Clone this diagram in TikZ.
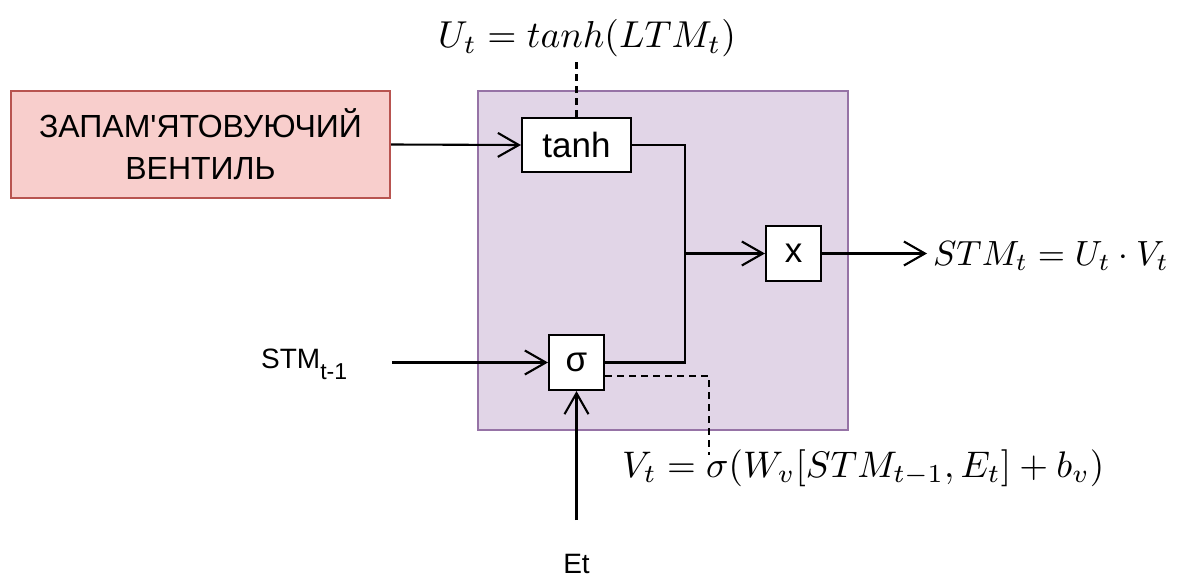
\documentclass[tikz,border=0pt]{standalone}
\usepackage{graphicx}
\usepackage{fontspec}
\setmainfont{Liberation Sans}
\newfontfamily\plainsans{Liberation Sans}
\usetikzlibrary{arrows.meta}
\definecolor{redfill}{HTML}{F8CECC}
\definecolor{reddraw}{HTML}{B85450}
\definecolor{purpfill}{HTML}{E1D5E7}
\definecolor{purpdraw}{HTML}{9673A6}
\newcommand{\bigmath}[2][3.75]{\scalebox{#1}{$#2$}}
\begin{document}
\begin{tikzpicture}[x=1pt,y=-1pt,
  conn/.style={line width=2.1pt, -{Straight Barb[length=21pt,width=24pt,line width=2.1pt]}},
  wire/.style={line width=2.1pt},
  dashline/.style={line width=2.1pt, dash pattern=on 7pt off 5pt},
  opbox/.style={draw, line width=2.1pt, fill=white, inner sep=0pt, font=\fontsize{35}{35}\selectfont},
  mathlbl/.style={inner sep=0pt},
  lbl/.style={inner sep=0pt, font=\fontsize{28}{28}\selectfont}]
\useasboundingbox (0,0) rectangle (1180,578);
\fill[white] (0,0) rectangle (1180,578);
\node[draw=reddraw, fill=redfill, line width=2pt, minimum width=379pt, minimum height=107pt, align=center, font=\plainsans\fontsize{32}{42}\selectfont, inner sep=0pt] (gate) at (200.5,144.5) {ЗАПАМ'ЯТОВУЮЧИЙ\\ВЕНТИЛЬ};
\node[draw=purpdraw, fill=purpfill, line width=2pt, minimum width=370pt, minimum height=339pt] (cell) at (663,260.5) {};
\node[opbox, minimum width=109pt, minimum height=54pt] (tanh) at (576.5,145) {tanh};
\node[opbox, minimum size=55pt] (mul) at (793.5,253.5) {x};
\node[opbox, minimum size=55pt] (sig) at (576.5,362.5) {σ};
\coordinate (j) at (685,253.5);
\draw[wire] (tanh.east) -| (j);
\draw[wire] (sig.east) -| (j);
\draw[conn] (j) -- (mul.west);
\draw[conn] (gate.east) -- (tanh.west);
\node[mathlbl, anchor=base west, outer xsep=6pt, outer ysep=0pt] (stm) at (927,265) {\bigmath[3.5]{STM_t = U_t\cdot V_t}};
\draw[conn] (mul.east) -- (mul.east -| stm.west);
\node[mathlbl, anchor=base] (uf) at (587,48) {\bigmath{U_t = tanh(LTM_t)}};
\coordinate (ud) at (576.5,60);
\draw[dashline] (tanh.north) -- (ud);
\node[mathlbl, anchor=base west] (vf) at (622,477) {\bigmath[3.7]{V_t = \sigma(W_v[STM_{t-1},E_t]+b_v)}};
\coordinate (vd) at (709,455);
\draw[dashline] ([yshift=-13.5pt]sig.east) -| (vd);
\node[lbl, anchor=base west] (stmin) at (261,368) {STM\raisebox{-11pt}{\fontsize{23}{23}\selectfont t-1}};
\coordinate (stmstart) at (392,362.5);
\draw[conn] (stmstart) -- (sig.west);
\node[lbl, anchor=base] (et) at (576.5,573) {Et};
\coordinate (etstart) at (576.5,520);
\draw[conn] (etstart) -- (sig.south);
\end{tikzpicture}
\end{document}
